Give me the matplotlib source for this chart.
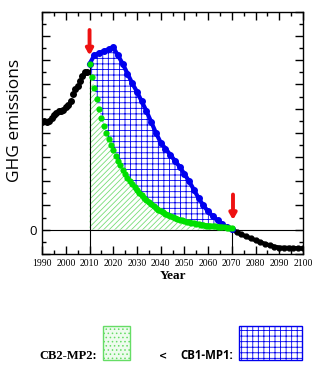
import numpy as np
import matplotlib
matplotlib.use("Agg")
import matplotlib.pyplot as plt
from matplotlib.patches import Rectangle
from matplotlib.ticker import MultipleLocator

# historical emissions 1990-2009
hist_years = list(range(1990, 2010))
hist_vals = [4.45, 4.47, 4.45, 4.50, 4.62, 4.75, 4.82, 4.90, 4.90, 4.95,
             5.05, 5.15, 5.30, 5.60, 5.80, 5.95, 6.15, 6.35, 6.50, 6.50]

# CB1-MP1 pathway (blue), every 2 years
cb1_years = list(range(2010, 2071, 2))
cb1_vals = [6.85, 7.20, 7.30, 7.38, 7.45, 7.53, 7.20, 6.85, 6.45, 6.05,
            5.70, 5.30, 4.90, 4.45, 4.00, 3.60, 3.35, 3.10, 2.85, 2.60,
            2.30, 2.00, 1.65, 1.30, 1.00, 0.75, 0.55, 0.38, 0.22, 0.10, 0.03]

# CB2-MP2 pathway (green), yearly
cb2_years = list(range(2010, 2071))
cb2_vals = [6.85, 6.30, 5.85, 5.40, 5.00, 4.60, 4.30, 4.00, 3.75, 3.50,
            3.28, 3.05, 2.85, 2.65, 2.47, 2.30, 2.15, 2.00, 1.87, 1.75,
            1.63, 1.52, 1.42, 1.32, 1.22, 1.13, 1.05, 0.97, 0.90, 0.83,
            0.77, 0.71, 0.66, 0.61, 0.56, 0.52, 0.48, 0.44, 0.41, 0.38,
            0.35, 0.32, 0.30, 0.28, 0.26, 0.24, 0.22, 0.20, 0.19, 0.17,
            0.16, 0.15, 0.14, 0.13, 0.12, 0.11, 0.10, 0.09, 0.08, 0.07, 0.05]

# after net-zero (black), every 2 years
post_years = list(range(2070, 2101, 2))
post_vals = [0.03, -0.10, -0.20, -0.28, -0.36, -0.44, -0.52, -0.59,
             -0.65, -0.70, -0.74, -0.75, -0.75, -0.76, -0.77, -0.78]

x_ticks = list(range(1990, 2101, 10))
arrow_years = [2010, 2070.5]
arrow_top = [8.25, 1.45]
arrow_tip = [7.2, 0.4]

green = "#00e000"
blue = "#0000ee"

plt.rcParams["hatch.linewidth"] = 0.6
fig = plt.figure(figsize=(3.24, 3.70), dpi=100)
ax = fig.add_axes([0.130, 0.314, 0.805, 0.654])

# interpolate blue on the green years for the band between the two
cb1_on_cb2 = np.interp(cb2_years, cb1_years, cb1_vals)

ax.fill_between(cb2_years, 0, cb2_vals, facecolor="none", edgecolor="#77dd77",
                hatch="//////", linewidth=0, zorder=1)
ax.fill_between(cb2_years, cb2_vals, cb1_on_cb2, facecolor="none", edgecolor=blue,
                hatch="+++", linewidth=0, zorder=1)

ax.axhline(0, color="black", lw=0.8, zorder=2)
ax.plot([2010, 2010], [-1, cb2_vals[0]], color="black", lw=0.8, zorder=2)
ax.plot([2070, 2070], [-1, 0], color="black", lw=0.8, zorder=2)

ax.plot(hist_years, hist_vals, "o", color="black", ms=4, zorder=4)
ax.plot(post_years, post_vals, "-o", color="black", lw=3, ms=3.5, zorder=4)
ax.plot(cb1_years, cb1_vals, "-o", color=blue, lw=3, ms=4, zorder=4)
ax.plot(cb2_years, cb2_vals, "o", color=green, ms=4.5, mec="none", zorder=5)
ax.plot(cb2_years[20:], cb2_vals[20:], "-", color=green, lw=3.5, zorder=5)

for xa, ya, yt in zip(arrow_years, arrow_top, arrow_tip):
    ax.annotate("", xy=(xa, yt), xytext=(xa, ya),
                arrowprops=dict(arrowstyle="-|>,head_length=0.35,head_width=0.2",
                                color="#ee1111", lw=2.8, shrinkA=0, shrinkB=0),
                zorder=6)

ax.set_xlim(1990, 2100)
ax.set_ylim(-1, 9)
ax.set_xticks(x_ticks)
ax.set_xticklabels([str(y) for y in x_ticks], fontfamily="Liberation Serif", fontsize=7)
ax.xaxis.set_minor_locator(MultipleLocator(5))
ax.set_yticks(list(range(-1, 10)))
ax.set_yticklabels(["0" if v == 0 else "" for v in range(-1, 10)], fontfamily="Open Sans",
                   fontsize=9.5)
ax.yaxis.set_minor_locator(MultipleLocator(0.5))
ax.tick_params(which="both", direction="in", top=True, right=True, width=1)
ax.tick_params(which="major", length=6, pad=4)
ax.tick_params(which="minor", length=3)
for s in ax.spines.values():
    s.set_linewidth(1)

ax.set_xlabel("Year", fontfamily="Liberation Serif", fontweight="bold", fontsize=9.5,
              labelpad=1)
ax.set_ylabel("GHG emissions", fontfamily="Open Sans", fontsize=12.5)
ax.yaxis.set_label_coords(-0.075, 0.55)

# bottom comparison legend
fig.text(0.123, 0.03, "CB2-MP2:", fontfamily="Liberation Serif", fontweight="bold",
         fontsize=9, va="baseline")
fig.add_artist(Rectangle((0.318, 0.027), 0.083, 0.091, transform=fig.transFigure,
                         facecolor="#eefbee", edgecolor="#66dd66", lw=1, hatch="....",
                         zorder=1))
fig.text(0.49, 0.03, "<", fontfamily="DejaVu Sans", fontweight="bold", fontsize=7,
         va="baseline")
fig.text(0.558, 0.03, "CB1-MP1:", fontfamily="Open Sans", fontweight="bold",
         fontsize=8.3, va="baseline")
fig.add_artist(Rectangle((0.738, 0.027), 0.195, 0.091, transform=fig.transFigure,
                         facecolor="white", edgecolor=blue, lw=1, hatch="+++",
                         zorder=1))

fig.savefig("out.png", dpi=100)
